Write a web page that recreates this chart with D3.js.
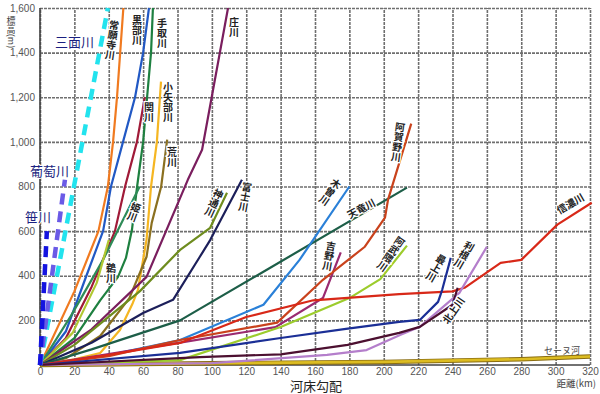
<!DOCTYPE html>
<html>
<head>
<meta charset="utf-8">
<script src="https://cdn.jsdelivr.net/npm/d3@7"></script>
<style>
  body { margin: 0; background: #fff; }
  svg { display: block; font-family: "Liberation Sans", Arial, sans-serif; }
  .jp { font-family: "Noto Sans CJK JP", "Noto Sans", sans-serif; }
</style>
</head>
<body>
<div id="chart"></div>
<script>
/*
 * River bed profiles (distance from mouth vs. elevation)
 */

// tick values
var xTicks = [0, 20, 40, 60, 80, 100, 120, 140, 160, 180, 200, 220, 240, 260, 280, 300, 320];
var yTicks = [200, 400, 600, 800, 1000, 1200, 1400, 1600];

// each river: [distance km, elevation m]
var sanmen   = [[0, 0], [39.5, 1600]];
var budou    = [[0, 0], [14.5, 830]];
var sasa     = [[0, 0], [4, 600]];
var joganji  = [[0, 0], [20, 330], [34, 600], [39.5, 800], [42.5, 1000], [44.8, 1200], [48.5, 1600]];
var kurobe   = [[0, 0], [15, 150], [27, 400], [36.7, 600], [41.3, 800], [48.3, 1000], [55.3, 1200], [60, 1400], [63.4, 1600]];
var sekigawa = [[0, 0], [15, 120], [30, 350], [43.6, 600], [49.5, 800], [56.4, 1000], [61, 1200]];
var tedori   = [[0, 0], [20, 120], [35, 290], [45.4, 395], [50, 480], [53.5, 606], [56.5, 800], [60, 1000], [62.3, 1200], [64.6, 1400], [65.7, 1600]];
var himekawa = [[0, 0], [18, 220], [36.6, 470], [58, 800]];
var oyabe    = [[0, 0], [20, 25], [35, 54], [46.5, 157], [54, 278], [57, 337], [62, 562], [64.6, 800], [68, 1000], [70.4, 1270]];
var arakawa  = [[0, 0], [15, 30], [35, 130], [52, 300], [62, 485], [65, 637], [70.5, 800], [74, 1010]];
var ukawa    = [[0, 0], [19, 144], [33, 368], [40, 560]];
var shogawa  = [[0, 0], [30, 160], [62, 395], [86, 830], [94.3, 965], [109.4, 1600]];
var jinzu    = [[0, 0], [20, 90], [58, 330], [81.5, 516], [99, 615], [108.8, 772]];
var fuji     = [[0, 0], [30, 100], [60, 233], [77.4, 292], [93, 485], [99, 560], [117.5, 830]];
var tenryu   = [[0, 0], [30, 70], [81.5, 200], [130, 418], [213.5, 795]];
var kiso     = [[0, 0], [40, 45], [81.5, 112], [130, 270], [151, 471], [180, 800]];
var yoshino  = [[0, 0], [81.5, 100], [137, 170], [164.6, 300], [175, 505]];
var agano    = [[0, 0], [40, 40], [81.5, 112], [138, 190], [164.6, 382], [189, 530], [200.7, 660], [202.5, 741], [216, 1082]];
var abukuma  = [[0, 0], [81.5, 22], [140, 170], [180, 300], [198, 385], [213.5, 535]];
var shinano  = [[0, 0], [40, 45], [81.5, 99], [120, 215], [159, 290], [209, 318], [240, 330], [247, 346], [268, 458], [280, 471], [301, 629], [321, 727]];
var mogami   = [[0, 0], [81.5, 54], [140, 121], [178, 162], [209, 193], [221, 202], [231.6, 283], [234, 337], [239, 480]];
var tone     = [[0, 0], [100, 8], [167, 45], [190, 67], [209.5, 135], [221, 171], [244, 323], [260, 530]];
var kitakami = [[0, 0], [93, 35], [140, 48], [179, 90], [209, 144], [221, 171], [240, 270], [243, 346]];
var seine    = [[0, 0], [100, 8], [200, 14], [280, 26], [320, 38]];

var width = 600;
var height = 394;
var plotLeft = 40, plotRight = 590, plotTop = 8, plotBottom = 365;

var x = d3.scaleLinear().domain([0, 320]).range([plotLeft, plotRight]);
var y = d3.scaleLinear().domain([0, 1600]).range([plotBottom, plotTop]);

var rivers = [
    {name: '常願寺川', data: joganji,  color: '#f07a20'},
    {name: '黒部川',   data: kurobe,   color: '#2158c4'},
    {name: '関川',     data: sekigawa, color: '#a01a38'},
    {name: '手取川',   data: tedori,   color: '#1e8040'},
    {name: '姫川',     data: himekawa, color: '#2e8b57'},
    {name: '小矢部川', data: oyabe,    color: '#f5b622'},
    {name: '荒川',     data: arakawa,  color: '#8b7020'},
    {name: '鵜川',     data: ukawa,    color: '#b0c832'},
    {name: '庄川',     data: shogawa,  color: '#7a1e5e'},
    {name: '神通川',   data: jinzu,    color: '#6e8c1e'},
    {name: '富士川',   data: fuji,     color: '#1c1f5a'},
    {name: '天竜川',   data: tenryu,   color: '#1d5e48'},
    {name: '木曽川',   data: kiso,     color: '#2a80d8'},
    {name: '吉野川',   data: yoshino,  color: '#9a2a70'},
    {name: '阿賀野川', data: agano,    color: '#c9421c'},
    {name: '阿武隈川', data: abukuma,  color: '#9ccc2c'},
    {name: '信濃川',   data: shinano,  color: '#d82818'},
    {name: '最上川',   data: mogami,   color: '#1b2f96'},
    {name: '利根川',   data: tone,     color: '#b47ecb'},
    {name: '北上川',   data: kitakami, color: '#4c1030'}
];

var dashed = [
    {name: '三面川', data: sanmen, color: '#22e3ee'},
    {name: '葡萄川', data: budou,  color: '#6a5ae6'},
    {name: '笹川',   data: sasa,   color: '#1414e0'}
];

// label layout: [text, x px, y px, vertical?, rotation]
var labels = [
    ['常願寺川', 112, 40, true, 8],
    ['黒部川', 137, 30, true, 0],
    ['手取川', 162, 33, true, 0],
    ['小矢部川', 168, 102, true, 0],
    ['関川', 149, 112, true, 0],
    ['荒川', 172, 157, true, 0],
    ['庄川', 234, 27, true, 0],
    ['姫川', 134, 212, true, 20],
    ['鵜川', 111, 273, true, 0],
    ['神通川', 214, 203, true, 25],
    ['富士川', 245, 197, true, 10],
    ['木曽川', 330, 192, true, 35],
    ['天竜川', 361, 208, false, -28],
    ['吉野川', 329, 256, true, 10],
    ['阿武隈川', 391, 254, true, 35],
    ['阿賀野川', 398, 142, true, 8],
    ['最上川', 436, 268, true, 30],
    ['利根川', 464, 255, true, 30],
    ['北上川', 453, 310, false, -55],
    ['信濃川', 570, 203, false, -30]
];

var svg = d3.select('#chart')
    .append('svg')
    .attr('width', width)
    .attr('height', height);

// grid
var gx = svg.append('g')
    .attr('transform', 'translate(0,' + plotBottom + ')')
    .call(d3.axisBottom(x).tickValues(xTicks).tickSize(-(plotBottom - plotTop)).tickFormat(''));
var gy = svg.append('g')
    .attr('transform', 'translate(' + plotLeft + ',0)')
    .call(d3.axisLeft(y).tickValues(yTicks).tickSize(-(plotRight - plotLeft)).tickFormat(''));
[gx, gy].forEach(function (g) {
    g.select('.domain').remove();
    g.selectAll('line')
        .attr('stroke', '#6f6f6f')
        .attr('stroke-width', 1.6)
        .attr('stroke-dasharray', '3,1');
});

// frame (left + bottom)
svg.append('path')
    .attr('d', 'M' + plotLeft + ',' + plotTop + 'V' + plotBottom + 'H' + plotRight)
    .attr('fill', 'none')
    .attr('stroke', '#444')
    .attr('stroke-width', 1.6);

// tick labels
var ax = svg.append('g')
    .attr('transform', 'translate(0,' + plotBottom + ')')
    .call(d3.axisBottom(x).tickValues(xTicks).tickSize(0).tickPadding(3));
var ay = svg.append('g')
    .attr('transform', 'translate(' + (plotLeft - 5) + ',0)')
    .call(d3.axisLeft(y).tickValues(yTicks).tickSize(0).tickPadding(0).tickFormat(d3.format(',')));
[ax, ay].forEach(function (g) {
    g.select('.domain').remove();
    g.selectAll('text')
        .attr('fill', '#555')
        .style('font-size', '10px')
        .style('font-family', '"Liberation Sans", Arial, sans-serif');
});

var line = d3.line()
    .x(function (d) { return x(d[0]); })
    .y(function (d) { return y(d[1]); });

// seine: gold line with dark edge
svg.append('path')
    .datum(seine)
    .attr('d', line)
    .attr('fill', 'none')
    .attr('stroke', '#8a6d10')
    .attr('stroke-width', 4.5);
svg.append('path')
    .datum(seine)
    .attr('d', line)
    .attr('fill', 'none')
    .attr('stroke', '#dcbc22')
    .attr('stroke-width', 2.6);

svg.selectAll('.river')
    .data(rivers)
    .enter()
    .append('path')
    .attr('class', 'river')
    .attr('d', function (d) { return line(d.data); })
    .attr('fill', 'none')
    .attr('stroke', function (d) { return d.color; })
    .attr('stroke-width', 2.2)
    .attr('stroke-linejoin', 'round');

svg.selectAll('.dashed')
    .data(dashed)
    .enter()
    .append('path')
    .attr('class', 'dashed')
    .attr('d', function (d) { return line(d.data); })
    .attr('fill', 'none')
    .attr('stroke', function (d) { return d.color; })
    .attr('stroke-width', 4.5)
    .attr('stroke-dasharray', '11,7');

// river labels
svg.selectAll('.lab')
    .data(labels)
    .enter()
    .append('text')
    .attr('class', 'lab jp')
    .attr('transform', function (d) { return 'translate(' + d[1] + ',' + d[2] + ') rotate(' + d[4] + ')'; })
    .attr('text-anchor', 'middle')
    .attr('dominant-baseline', 'central')
    .style('writing-mode', function (d) { return d[3] ? 'vertical-rl' : 'horizontal-tb'; })
    .style('font-size', '10px')
    .style('font-weight', 'bold')
    .attr('fill', '#222')
    .attr('stroke', '#fff')
    .attr('stroke-width', 2.5)
    .attr('paint-order', 'stroke')
    .text(function (d) { return d[0]; });

svg.append('text')
    .attr('class', 'jp')
    .attr('x', 562).attr('y', 350)
    .attr('text-anchor', 'middle')
    .attr('dominant-baseline', 'central')
    .style('font-size', '9px')
    .attr('fill', '#444')
    .text('セーヌ河');

// dashed river names
var dashLabels = [['三面川', 55, 47], ['葡萄川', 30, 176], ['笹川', 25, 222]];
svg.selectAll('.dlab')
    .data(dashLabels)
    .enter()
    .append('text')
    .attr('class', 'dlab jp')
    .attr('x', function (d) { return d[1]; })
    .attr('y', function (d) { return d[2]; })
    .style('font-size', '13px')
    .attr('fill', '#1a1f80')
    .attr('stroke', '#fff')
    .attr('stroke-width', 2)
    .attr('paint-order', 'stroke')
    .text(function (d) { return d[0]; });

// axis titles
svg.append('text')
    .attr('class', 'jp')
    .attr('transform', 'translate(11,32)')
    .attr('text-anchor', 'middle')
    .attr('dominant-baseline', 'central')
    .style('writing-mode', 'vertical-rl')
    .style('font-size', '9px')
    .attr('fill', '#444')
    .text('標高(m)');

svg.append('text')
    .attr('class', 'jp')
    .attr('x', 596).attr('y', 387)
    .attr('text-anchor', 'end')
    .style('font-size', '9.5px')
    .attr('fill', '#444')
    .text('距離(km)');

svg.append('text')
    .attr('class', 'jp')
    .attr('x', 316).attr('y', 391)
    .attr('text-anchor', 'middle')
    .style('font-size', '13px')
    .attr('fill', '#222')
    .text('河床勾配');
</script>
</body>
</html>
